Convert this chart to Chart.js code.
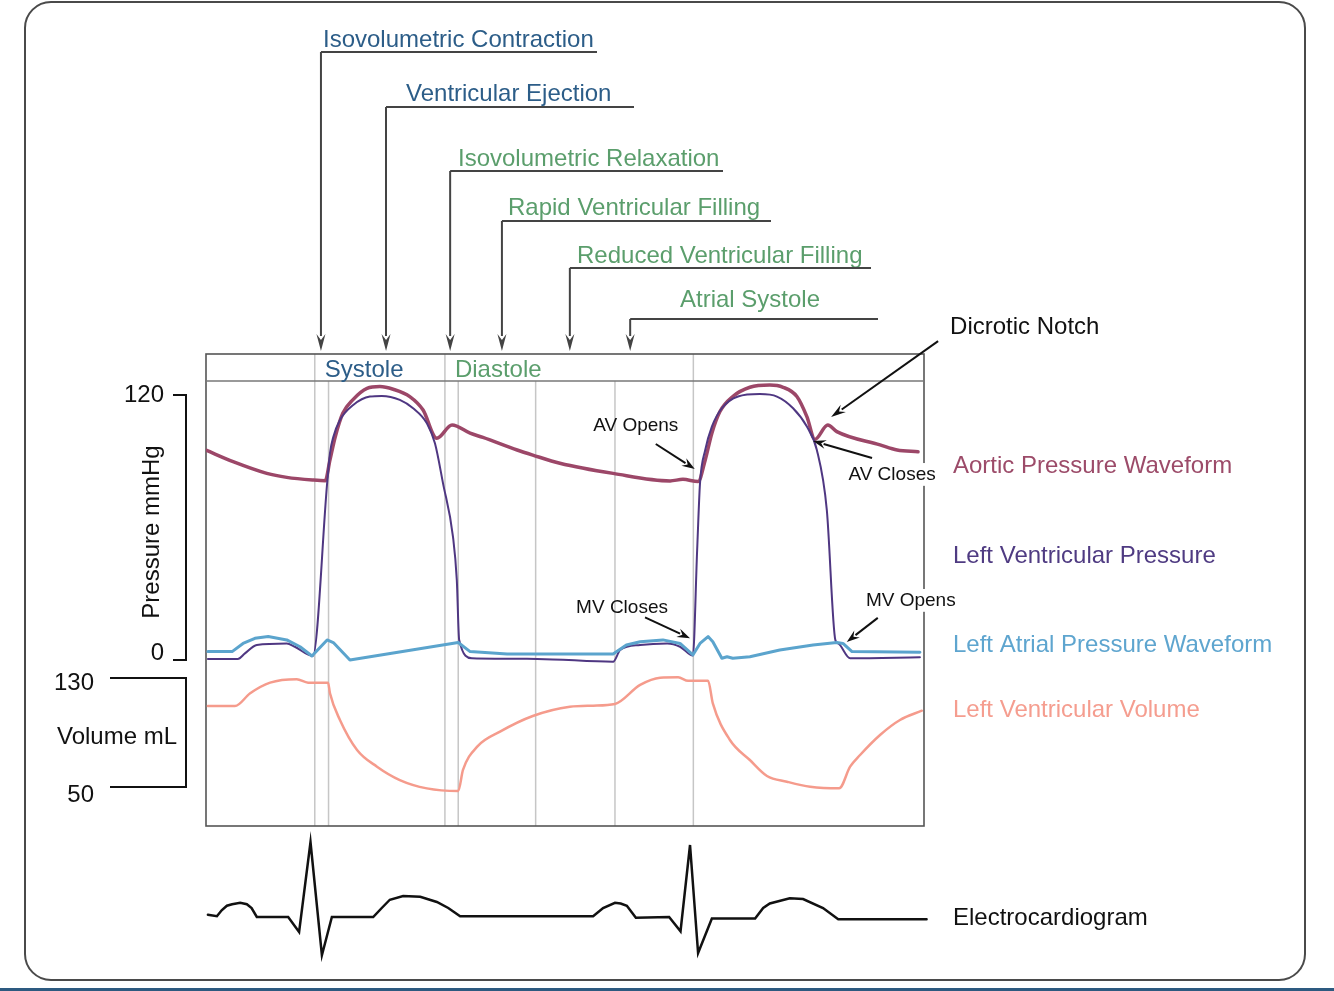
<!DOCTYPE html>
<html>
<head>
<meta charset="utf-8">
<title>Wiggers Diagram</title>
<script src="https://cdn.jsdelivr.net/npm/chart.js@4.4.1/dist/chart.umd.min.js"></script>
<style>
  html, body { margin: 0; padding: 0; background: #fff; }
  #wrap { width: 1334px; height: 991px; position: relative; }
</style>
</head>
<body>
<div id="wrap"><canvas id="chart"></canvas></div>
<script>
// time in ms, one cardiac cycle is roughly 800 ms
const aorticTime     = [0, 57, 128, 170, 225, 251, 261, 272, 288, 309, 339, 366, 394, 429, 457, 486, 518, 556, 583, 655, 688, 745, 857, 977, 1004, 1036, 1051, 1065, 1082, 1109, 1145, 1187, 1215, 1244, 1265, 1282, 1309, 1328, 1419, 1455, 1499];
const aorticPressure = [95, 89.8, 84.5, 82.7, 81.5, 81.2, 90.6, 101, 111.7, 117.8, 123, 123.8, 122.6, 119.3, 113.2, 100.4, 106.4, 102.7, 100.8, 95.1, 92.8, 89.1, 84.5, 81.1, 81.8, 80.8, 90.6, 102.7, 112.5, 119.3, 123.5, 124.5, 123.5, 119.3, 110.2, 99.9, 106.4, 103.4, 97.4, 95.1, 94.3];

const lvTime     = [4, 67, 82, 107, 170, 187, 225, 255, 261, 268, 282, 310, 345, 370, 408, 436, 465, 482, 499, 520, 528, 533, 560, 697, 857, 872, 914, 971, 998, 1025, 1034, 1040, 1051, 1065, 1086, 1120, 1166, 1202, 1236, 1265, 1286, 1307, 1325, 1331, 1356, 1503];
const lvPressure = [0.5, 0.5, 3, 6.8, 7.5, 6, 1.8, 80, 93.7, 101, 108.7, 115.5, 119.3, 119.6, 117.8, 114, 107.2, 98.1, 80, 55.8, 36.2, 9.1, 0.8, 0.5, -0.8, 4.5, 6.8, 7.5, 6, 2, 49.8, 80, 95.1, 105.7, 114, 119.3, 120.4, 119.3, 114, 105.7, 95.1, 67.9, 9, 7.5, 0.8, 1.2];

const laTime     = [4, 55, 78, 103, 131, 170, 198, 223, 255, 268, 303, 531, 556, 634, 857, 885, 914, 962, 998, 1025, 1040, 1057, 1067, 1086, 1097, 1109, 1145, 1208, 1278, 1328, 1341, 1360, 1503];
const laPressure = [3.8, 3.8, 7.5, 9.8, 10.6, 9.1, 6, 1.8, 9.1, 7.9, 0, 7.9, 3.8, 2.7, 2.7, 6.8, 8.3, 9.1, 7.5, 2.3, 7.5, 10.6, 8.3, 0.8, 1.5, 0.8, 1.5, 4.5, 6.8, 7.9, 7.5, 3.8, 3.5];

const volTime = [4, 61, 93, 135, 191, 215, 257, 261, 282, 318, 360, 408, 465, 531, 541, 571, 619, 688, 766, 815, 861, 914, 956, 994, 1015, 1057, 1067, 1103, 1145, 1181, 1223, 1272, 1333, 1356, 1377, 1419, 1461, 1507];
const volume  = [109.4, 109.4, 118.8, 126.6, 129.1, 126.6, 126.6, 118.8, 99.2, 77.2, 64.9, 55.1, 49, 47.1, 62.5, 79.6, 90.6, 102.1, 108.9, 109.7, 110.9, 124.9, 130.2, 130.5, 128, 128, 111.4, 84.5, 69.8, 58.1, 53.9, 50.2, 49, 64.9, 73.5, 88.2, 99.2, 106];

const ecgTime  = [4, 23, 33, 44, 55, 72, 86, 96, 107, 173, 196, 220, 244, 265, 352, 370, 387, 415, 451, 486, 510, 535, 815, 836, 861, 873, 886, 905, 975, 999, 1019, 1036, 1065, 1156, 1173, 1187, 1229, 1257, 1299, 1331, 1517];
const ecgValue = [0.03, 0.01, 0.09, 0.15, 0.17, 0.19, 0.17, 0.12, 0, 0, -0.2, 1.0, -0.51, 0, 0, 0.12, 0.23, 0.28, 0.27, 0.2, 0.12, 0.01, 0.01, 0.12, 0.19, 0.18, 0.15, -0.01, 0, -0.19, 0.96, -0.48, -0.02, -0.02, 0.12, 0.18, 0.25, 0.24, 0.12, -0.03, -0.03];

const pressureTicks = [0, 120];
const volumeTicks   = [50, 130];

const cycleBoundaryTimes = [229, 503, 1026];
const innerGridTimes     = [258, 531, 694, 861];
const stripLabels        = ['Systole', 'Diastole'];

const phaseNames = ['Isovolumetric Contraction', 'Ventricular Ejection', 'Isovolumetric Relaxation',
                    'Rapid Ventricular Filling', 'Reduced Ventricular Filling', 'Atrial Systole'];
const phaseTimes = [242, 379, 514, 623, 766, 893];

// layout (pixels)
const W = 1334, H = 991;
const BOX = { left: 206, top: 354, right: 924, bottom: 826, strip: 381 };
const FONT = "'Liberation Sans', Arial, Helvetica, sans-serif";
const BLUE = '#2c5d88', GREEN = '#5b9e6c';

const phaseLayout = [
  { textX: 323, base: 47,  lineY: 52,  lineEnd: 597 },
  { textX: 406, base: 101, lineY: 107, lineEnd: 634 },
  { textX: 458, base: 166, lineY: 171, lineEnd: 723 },
  { textX: 508, base: 215, lineY: 221, lineEnd: 771 },
  { textX: 577, base: 263, lineY: 268, lineEnd: 871 },
  { textX: 680, base: 307, lineY: 319, lineEnd: 878 }
];

const seriesLabels = [
  { text: 'Aortic Pressure Waveform',      y: 466, color: '#9c4b69' },
  { text: 'Left Ventricular Pressure',     y: 556, color: '#4f3b82' },
  { text: 'Left Atrial Pressure Waveform', y: 645, color: '#5ea5cf' },
  { text: 'Left Ventricular Volume',       y: 710, color: '#f59d8f' },
  { text: 'Electrocardiogram',             y: 918, color: '#111' }
];

// arrow tip in data units, text and tail offsets in px from the tip
const callouts = [
  { text: 'AV Opens',  t: 1029, p: 86.5, tx: -59, ty: -43,  ax: -39, ay: -25, size: 19 },
  { text: 'MV Closes', t: 1019, p: 9.8,  tx: -68, ty: -31,  ax: -45, ay: -21, size: 19 },
  { text: 'AV Closes', t: 1278, p: 99.2, tx: 79,  ty: 33.5, ax: 59,  ay: 17,  size: 19, bg: true },
  { text: 'MV Opens',  t: 1349, p: 8.2,  tx: 64,  ty: -41.5, ax: 31, ay: -24, size: 19, bg: true },
  { text: 'Dicrotic Notch', t: 1316, p: 110, tx: 119, ty: -90, ax: 107, ay: -76, size: 24, left: true }
];

function fitRange(v1, px1, v2, px2) {
  const k = (px2 - px1) / (v2 - v1);
  return { min: v1 + (BOX.bottom - px1) / k, max: v1 + (BOX.top - px1) / k };
}
const pRange = fitRange(0, 660, 120, 395);
const vRange = fitRange(50, 787, 130, 678);
const eRange = fitRange(0, 917, 1, 842);

function series(label, xs, ys, axis, color, width, smooth) {
  return {
    label,
    data: xs.map((x, i) => ({ x, y: ys[i] })),
    yAxisID: axis,
    borderColor: color,
    borderWidth: width,
    pointRadius: 0,
    tension: 0,
    cubicInterpolationMode: smooth ? 'monotone' : 'default',
    borderJoinStyle: 'round',
    borderCapStyle: 'round',
    fill: false
  };
}

function arrow(ctx, x1, y1, x2, y2, len, half, color, lw) {
  const a = Math.atan2(y2 - y1, x2 - x1);
  const bx = x2 - len * Math.cos(a), by = y2 - len * Math.sin(a);
  ctx.strokeStyle = color;
  ctx.fillStyle = color;
  ctx.lineWidth = lw;
  ctx.beginPath();
  ctx.moveTo(x1, y1);
  ctx.lineTo(bx + 2 * Math.cos(a), by + 2 * Math.sin(a));
  ctx.stroke();
  ctx.beginPath();
  ctx.moveTo(x2, y2);
  ctx.lineTo(bx - half * Math.sin(a), by + half * Math.cos(a));
  ctx.lineTo(bx + 0.35 * len * Math.cos(a), by + 0.35 * len * Math.sin(a));
  ctx.lineTo(bx + half * Math.sin(a), by - half * Math.cos(a));
  ctx.closePath();
  ctx.fill();
}

const wiggersDecor = {
  id: 'wiggersDecor',
  beforeDraw(chart) {
    const ctx = chart.ctx;
    ctx.save();
    ctx.fillStyle = '#fff';
    ctx.fillRect(0, 0, W, H);
    // outer frame
    const l = 25, t = 2, r = 1305, b = 980, rad = 26;
    ctx.strokeStyle = '#4a4a4a';
    ctx.lineWidth = 2;
    ctx.beginPath();
    ctx.moveTo(l + rad, t);
    ctx.arcTo(r, t, r, b, rad);
    ctx.arcTo(r, b, l, b, rad);
    ctx.arcTo(l, b, l, t, rad);
    ctx.arcTo(l, t, r, t, rad);
    ctx.closePath();
    ctx.stroke();
    ctx.fillStyle = '#2d5a80';
    ctx.fillRect(0, 988, W, 3);
    ctx.restore();
  },
  beforeDatasetsDraw(chart) {
    const ctx = chart.ctx, x = chart.scales.x;
    ctx.save();
    ctx.strokeStyle = '#c6c6c6';
    ctx.lineWidth = 1.5;
    cycleBoundaryTimes.forEach(tm => {
      const px = x.getPixelForValue(tm);
      ctx.beginPath(); ctx.moveTo(px, BOX.top); ctx.lineTo(px, BOX.bottom); ctx.stroke();
    });
    innerGridTimes.forEach(tm => {
      const px = x.getPixelForValue(tm);
      ctx.beginPath(); ctx.moveTo(px, BOX.strip); ctx.lineTo(px, BOX.bottom); ctx.stroke();
    });
    // plot box and strip
    ctx.strokeStyle = '#555';
    ctx.lineWidth = 1.6;
    ctx.strokeRect(BOX.left, BOX.top, BOX.right - BOX.left, BOX.bottom - BOX.top);
    ctx.strokeStyle = '#777';
    ctx.beginPath(); ctx.moveTo(BOX.left, BOX.strip); ctx.lineTo(BOX.right, BOX.strip); ctx.stroke();
    ctx.font = `24px ${FONT}`;
    ctx.textBaseline = 'alphabetic';
    ctx.textAlign = 'left';
    stripLabels.forEach((s, i) => {
      ctx.fillStyle = i === 0 ? BLUE : GREEN;
      ctx.fillText(s, x.getPixelForValue(cycleBoundaryTimes[i]) + 10, 377);
    });
    ctx.restore();
  },
  afterDatasetsDraw(chart) {
    const ctx = chart.ctx, x = chart.scales.x, p = chart.scales.p, v = chart.scales.v;
    ctx.save();

    // phase leaders
    phaseNames.forEach((name, i) => {
      const L = phaseLayout[i], px = x.getPixelForValue(phaseTimes[i]);
      ctx.font = `24px ${FONT}`;
      ctx.textAlign = 'left';
      ctx.textBaseline = 'alphabetic';
      ctx.fillStyle = i < 2 ? BLUE : GREEN;
      ctx.fillText(name, L.textX, L.base);
      ctx.strokeStyle = '#444';
      ctx.lineWidth = 2;
      ctx.beginPath();
      ctx.moveTo(L.lineEnd, L.lineY);
      ctx.lineTo(px, L.lineY);
      ctx.stroke();
      arrow(ctx, px, L.lineY, px, BOX.top - 3, 17, 4.5, '#444', 2);
    });

    // pressure and volume brackets
    ctx.strokeStyle = '#111';
    ctx.lineWidth = 2;
    const p0 = p.getPixelForValue(pressureTicks[0]), p1 = p.getPixelForValue(pressureTicks[1]);
    ctx.beginPath();
    ctx.moveTo(173, p1); ctx.lineTo(186, p1); ctx.lineTo(186, p0); ctx.lineTo(173, p0);
    ctx.stroke();
    const v0 = v.getPixelForValue(volumeTicks[0]), v1 = v.getPixelForValue(volumeTicks[1]);
    ctx.beginPath();
    ctx.moveTo(110, v1); ctx.lineTo(186, v1); ctx.lineTo(186, v0); ctx.lineTo(110, v0);
    ctx.stroke();

    ctx.fillStyle = '#111';
    ctx.font = `24px ${FONT}`;
    ctx.textAlign = 'right';
    ctx.textBaseline = 'middle';
    ctx.fillText(String(pressureTicks[1]), 164, p1);
    ctx.fillText(String(pressureTicks[0]), 164, p0 - 7);
    ctx.fillText(String(volumeTicks[1]), 94, v1 + 5);
    ctx.fillText(String(volumeTicks[0]), 94, v0 + 8);
    ctx.textAlign = 'center';
    ctx.fillText('Volume mL', 117, 737);
    ctx.save();
    ctx.translate(152, 532);
    ctx.rotate(-Math.PI / 2);
    ctx.fillText('Pressure mmHg', 0, 0);
    ctx.restore();

    // series labels on the right
    ctx.textAlign = 'left';
    seriesLabels.forEach(s => {
      ctx.fillStyle = s.color;
      ctx.fillText(s.text, BOX.right + 29, s.y);
    });

    // callouts
    callouts.forEach(c => {
      const tx = x.getPixelForValue(c.t), ty = p.getPixelForValue(c.p);
      ctx.font = `${c.size}px ${FONT}`;
      ctx.textAlign = c.left ? 'left' : 'center';
      ctx.textBaseline = 'middle';
      const cx = tx + c.tx, cy = ty + c.ty;
      if (c.bg) {
        const w = ctx.measureText(c.text).width;
        ctx.fillStyle = '#fff';
        ctx.fillRect(cx - w / 2 - 3, cy - c.size * 0.6, w + 6, c.size * 1.2);
      }
      ctx.fillStyle = '#111';
      ctx.fillText(c.text, cx, cy);
      arrow(ctx, tx + c.ax, ty + c.ay, tx, ty, c.size > 20 ? 15 : 13, 4.5, '#111', 2);
    });
    ctx.restore();
  }
};

const ecgSet = series('Electrocardiogram', ecgTime, ecgValue, 'e', '#111', 2.5, false);
ecgSet.clip = false;
ecgSet.borderJoinStyle = 'miter';

new Chart(document.getElementById('chart'), {
  type: 'line',
  data: {
    datasets: [
      series('Left Atrial Pressure', laTime, laPressure, 'p', '#5ba4cd', 3, false),
      series('Left Ventricular Pressure', lvTime, lvPressure, 'p', '#4f3782', 2, true),
      series('Aortic Pressure', aorticTime, aorticPressure, 'p', '#9c4768', 3.5, true),
      series('Left Ventricular Volume', volTime, volume, 'v', '#f59b8c', 2.5, true),
      ecgSet
    ]
  },
  options: {
    responsive: true,
    maintainAspectRatio: false,
    animation: false,
    events: [],
    layout: { padding: { left: BOX.left, top: BOX.top, right: W - BOX.right, bottom: H - BOX.bottom } },
    plugins: { legend: { display: false }, tooltip: { enabled: false } },
    scales: {
      x: { type: 'linear', min: 0, max: (BOX.right - BOX.left) / 0.475, display: false },
      p: { type: 'linear', min: pRange.min, max: pRange.max, display: false },
      v: { type: 'linear', min: vRange.min, max: vRange.max, display: false },
      e: { type: 'linear', min: eRange.min, max: eRange.max, display: false }
    }
  },
  plugins: [wiggersDecor]
});
</script>
</body>
</html>
